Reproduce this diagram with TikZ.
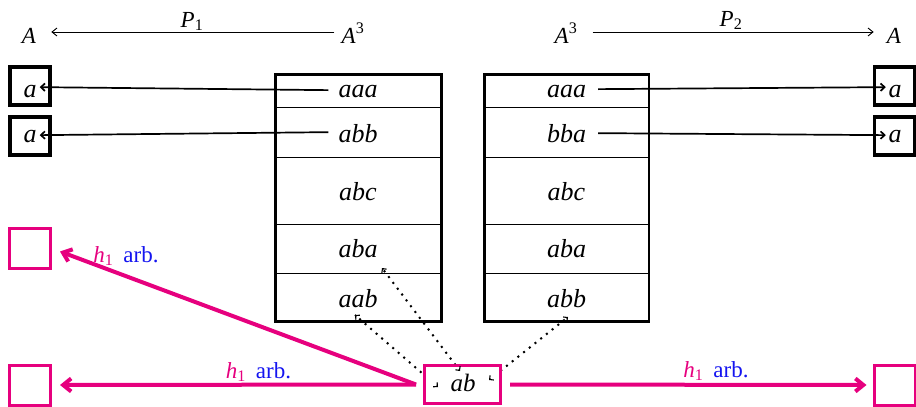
\documentclass[tikz,border=0pt]{standalone}
\usepackage{fontspec}
\setmainfont{Liberation Serif}
\usetikzlibrary{arrows.meta,calc}
\definecolor{mag}{RGB}{230,0,126}
\definecolor{blu}{RGB}{20,20,240}
\begin{document}
\begin{tikzpicture}[x=1pt,y=-1pt,
  hdr/.style={font=\fontsize{23}{26}\selectfont, text height=22pt, text depth=0pt, inner xsep=10pt, inner ysep=0pt, anchor=base},
  plbl/.style={font=\fontsize{23}{26}\selectfont, inner sep=0pt, anchor=base},
  cell/.style={font=\fontsize{26}{30}\selectfont\itshape, text height=11.7pt, text depth=0pt, inner sep=0pt, anchor=base},
  abcell/.style={font=\fontsize{25}{28}\selectfont\itshape, inner sep=0pt, anchor=base},
  bbox/.style={draw, line width=3.5pt, minimum width=40pt, minimum height=38pt, inner sep=0pt},
  mbox/.style={draw=mag, line width=3pt, minimum width=41pt, minimum height=40pt, inner sep=0pt},
  tbl/.style={line width=2.5pt},
  rowline/.style={line width=1pt},
  toparrow/.style={line width=0.9pt, -{Straight Barb[length=5pt,width=8pt]}},
  barrow/.style={line width=1.7pt, -{Straight Barb[length=4pt,width=7.5pt]}},
  marrow/.style={draw=mag, line width=4pt, -{Straight Barb[length=8pt,width=13pt]}},
  mlbl/.style={font=\fontsize{23}{26}\selectfont, inner sep=0pt, anchor=base},
  dotl/.style={line width=2pt, dash pattern=on 2pt off 5.3pt},
  dtip/.style={line width=1.1pt, -{Straight Barb[length=3pt,width=6pt]}}
]
\useasboundingbox (0,0) rectangle (916,407);

% header
\node[hdr] (AL) at (29,43) {\textit{A}};
\node[hdr] (A3L) at (353,43) {\textit{A}\textsuperscript{3}};
\node[plbl] (P1) at (192,27) {\textit{P}\textsubscript{1}};
\draw[toparrow] ([xshift=3pt]A3L.west) -- ([xshift=5pt]AL.east);
\node[hdr] (A3R) at (566,43) {\textit{A}\textsuperscript{3}};
\node[hdr] (AR) at (894,43) {\textit{A}};
\node[plbl] (P2) at (731,26) {\textit{P}\textsubscript{2}};
\draw[toparrow] ([xshift=5pt]A3R.east) -- ([xshift=-3pt]AR.west);

% black boxes
\node[bbox] (b1) at (30,86) {};
\node[bbox] (b2) at (30,136) {};
\node[cell] (la1) at (30,97) {a};
\node[cell] (la2) at (30,142) {a};
\node[bbox] (b3) at (894.5,86) {};
\node[bbox] (b4) at (894.5,136) {};
\node[cell] (ra1) at (895,97) {a};
\node[cell] (ra2) at (895,142) {a};

% tables
\draw[tbl] (275.5,74.5) rectangle (441.5,321.5);
\foreach \yy in {107,157,224,273} \draw[rowline] (275.5,\yy) -- (441.5,\yy);
\draw[tbl] (484.5,74.5) rectangle (649,321.5);
\foreach \yy in {107,157,224,273} \draw[rowline] (484.5,\yy) -- (649,\yy);

\node[cell] (t1r1) at (358,97) {aaa};
\node[cell] (t1r2) at (358,142) {abb};
\node[cell] (t1r3) at (358,200) {abc};
\node[cell] (t1r4) at (358,257) {aba};
\node[cell] (t1r5) at (358,307) {aab};
\node[cell] (t2r1) at (566.5,97) {aaa};
\node[cell] (t2r2) at (566.5,142) {bba};
\node[cell] (t2r3) at (566.5,200) {abc};
\node[cell] (t2r4) at (566.5,257) {aba};
\node[cell] (t2r5) at (566.5,307) {abb};

% black arrows
\draw[barrow] ([xshift=-10pt,yshift=1pt]t1r1.west) -- ([xshift=3pt,yshift=4pt]la1.east);
\draw[barrow] ([xshift=-10pt,yshift=4pt]t1r2.west) -- ([xshift=3pt,yshift=1pt]la2.east);
\draw[barrow] ([xshift=12pt,yshift=2pt]t2r1.east) -- ([xshift=-2.5pt,yshift=4pt]ra1.west);
\draw[barrow] ([xshift=12pt,yshift=3pt]t2r2.east) -- ([xshift=-2.5pt,yshift=1pt]ra2.west);

% magenta boxes
\node[mbox] (m1) at (30,248.5) {};
\node[mbox] (m2) at (30,385) {};
\node[mbox] (m3) at (894.5,385) {};
\node[mbox, minimum width=76pt, minimum height=38pt] (ab) at (462.5,384.5) {};
\node[abcell] (abt) at (463,391) {ab};

% magenta arrows
\draw[marrow] ([xshift=-7pt]ab.west) -- ([xshift=8pt,yshift=-3pt]m1.east);
\draw[marrow] ([xshift=-7pt]ab.west) -- ([xshift=8pt]m2.east);
\draw[marrow] ([xshift=8pt]ab.east) -- ([xshift=-6pt]m3.west);
\node[mlbl] (l1) at (126,262) {{\color{mag}\textit{h}\textsubscript{1}}\hspace{10pt}{\color{blu}arb.}};
\node[mlbl] (l2) at (258.5,378) {{\color{mag}\textit{h}\textsubscript{1}}\hspace{10pt}{\color{blu}arb.}};
\node[mlbl] (l3) at (716,377) {{\color{mag}\textit{h}\textsubscript{1}}\hspace{10pt}{\color{blu}arb.}};

% dotted connectors
\coordinate (o1) at (355,315);
\coordinate (i1) at (438,387);
\coordinate (o2) at (382,268);
\coordinate (i2) at (460,371);
\coordinate (o3) at (568,317);
\coordinate (i3) at (489,380);
\begin{scope}[even odd rule]
  \clip (-5,-5) rectangle (925,415) (ab.south west) rectangle (ab.north east);
  \draw[dotl] (i1) -- (o1);
  \draw[dotl] (i2) -- (o2);
  \draw[dotl] (i3) -- (o3);
\end{scope}
\draw[dtip] ($(o1)!2pt!(i1)$) -- (o1);
\draw[dtip] ($(i1)!2pt!(o1)$) -- (i1);
\draw[dtip] ($(o2)!2pt!(i2)$) -- (o2);
\draw[dtip] ($(i2)!2pt!(o2)$) -- (i2);
\draw[dtip] ($(o3)!2pt!(i3)$) -- (o3);
\draw[dtip] ($(i3)!2pt!(o3)$) -- (i3);
\end{tikzpicture}
\end{document}
